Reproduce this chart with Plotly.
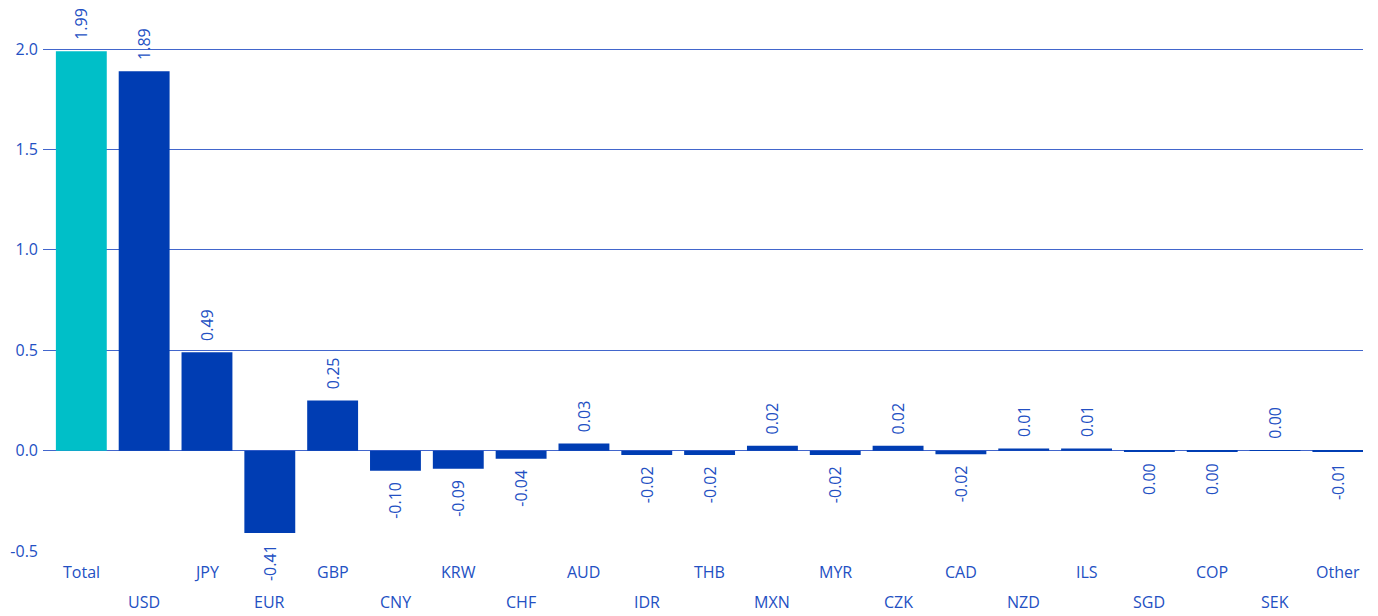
import plotly.graph_objects as go

categories = ["Total", "USD", "JPY", "EUR", "GBP", "CNY", "KRW", "CHF", "AUD", "IDR",
              "THB", "MXN", "MYR", "CZK", "CAD", "NZD", "ILS", "SGD", "COP", "SEK", "Other"]
values = [1.99, 1.89, 0.49, -0.41, 0.25, -0.10, -0.09, -0.04, 0.035, -0.022,
          -0.022, 0.024, -0.022, 0.024, -0.018, 0.011, 0.011, -0.002, -0.002, 0.003, -0.006]
value_labels = ["1.99", "1.89", "0.49", "-0.41", "0.25", "-0.10", "-0.09", "-0.04", "0.03", "-0.02",
                "-0.02", "0.02", "-0.02", "0.02", "-0.02", "0.01", "0.01", "0.00", "0.00", "0.00", "-0.01"]
y_ticks = [-0.5, 0.0, 0.5, 1.0, 1.5, 2.0]
y_ticktext = ["-0.5", "0.0", "0.5", "1.0", "1.5", "2.0"]

TOTAL_COLOR = "#00BFC8"
BAR_COLOR = "#003DB3"
TEXT_COLOR = "#2350C3"
GRID_COLOR = "#4266CC"
FONT = "Open Sans"
NB = "\u00a0"

colors = [TOTAL_COLOR if c == "Total" else BAR_COLOR for c in categories]
# pad labels on the side that faces the bar (rotated text reads bottom-to-top)
shown = [(NB + NB + t) if v >= 0 else (t + NB + NB) for t, v in zip(value_labels, values)]

fig = go.Figure()
fig.add_trace(go.Bar(
    x=categories, y=values, marker=dict(color=colors, line=dict(width=0)),
    text=shown, textposition="outside", textangle=-90,
    textfont=dict(family=FONT, size=16, color=TEXT_COLOR),
    constraintext="none", cliponaxis=False, hoverinfo="x+y",
))

for i, c in enumerate(categories):
    fig.add_annotation(x=c, xref="x", y=0, yref="paper", text=c, showarrow=False,
                       yanchor="middle", xanchor="center",
                       yshift=-21 if i % 2 == 0 else -51,
                       font=dict(family=FONT, size=16, color=TEXT_COLOR))

# page body has an 8px margin, so the figure is sized/offset to compensate
fig.update_layout(
    width=1370, height=608,
    margin=dict(l=35, r=15, t=1, b=65, autoexpand=False),
    plot_bgcolor="white", paper_bgcolor="white",
    bargap=0.19, showlegend=False,
    xaxis=dict(type="category", range=[-0.61, 20.4], showticklabels=False,
               showgrid=False, zeroline=False, showline=False, ticks=""),
    yaxis=dict(range=[-0.5, 2.2], tickvals=y_ticks, ticktext=y_ticktext,
               showgrid=True, gridcolor=GRID_COLOR, gridwidth=1,
               zeroline=True, zerolinecolor=GRID_COLOR, zerolinewidth=1,
               showline=False, ticks="", ticklabelstandoff=4,
               tickfont=dict(family=FONT, size=16, color=TEXT_COLOR)),
)

fig.write_html("out.html")
